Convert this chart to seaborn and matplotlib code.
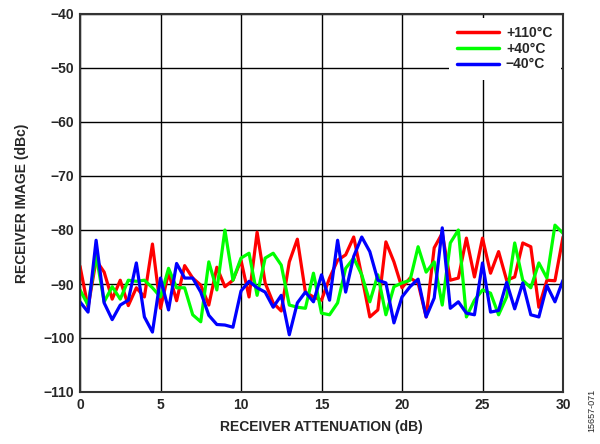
import numpy as np
import pandas as pd
import matplotlib
matplotlib.use("Agg")
import matplotlib.pyplot as plt
import seaborn as sns

attenuation = [i * 0.5 for i in range(61)]

red_110 = [-86.7, -94.3, -85.6, -87.8, -92.8, -89.3, -94.0, -90.7, -92.4, -82.6,
           -94.5, -87.9, -93.1, -86.6, -88.9, -90.2, -93.9, -86.9, -90.5, -89.3,
           -85.6, -92.4, -80.4, -89.8, -93.5, -95.0, -85.9, -81.7, -91.5, -92.4,
           -93.0, -88.9, -85.6, -84.6, -81.3, -88.5, -96.1, -94.8, -82.2, -85.9,
           -90.7, -88.9, -89.8, -96.1, -83.3, -80.6, -89.3, -88.9, -81.5, -88.7,
           -81.5, -88.0, -84.0, -89.3, -88.7, -82.4, -83.1, -94.3, -89.3, -89.4,
           -81.3]

green_40 = [-91.1, -93.9, -84.6, -93.3, -90.5, -92.8, -89.3, -89.5, -89.3, -90.7,
            -92.4, -87.1, -90.7, -90.7, -95.7, -97.0, -85.9, -91.1, -80.0, -89.3,
            -85.2, -84.3, -92.1, -85.2, -84.3, -86.5, -93.9, -94.3, -94.5, -88.0,
            -95.4, -95.7, -93.5, -87.1, -85.2, -88.3, -93.3, -88.3, -95.7, -90.5,
            -89.8, -89.3, -83.1, -87.8, -85.9, -93.9, -82.4, -80.0, -96.1, -93.0,
            -91.1, -91.7, -95.7, -92.4, -82.4, -89.3, -90.7, -86.1, -88.9, -79.1,
            -80.6]

blue_m40 = [-93.3, -95.2, -81.9, -93.5, -96.6, -93.9, -93.0, -86.1, -96.1, -98.9,
            -88.9, -94.8, -86.2, -88.9, -88.9, -91.5, -95.8, -97.5, -97.6, -98.0,
            -91.3, -89.5, -90.7, -91.5, -94.3, -92.1, -99.4, -93.5, -91.5, -93.3,
            -88.3, -93.0, -81.9, -91.5, -84.9, -81.3, -84.0, -89.3, -89.8, -97.2,
            -92.4, -90.5, -89.1, -96.1, -92.6, -79.6, -94.5, -93.3, -95.4, -95.7,
            -86.1, -95.2, -94.9, -89.7, -94.6, -89.8, -95.7, -96.1, -90.3, -93.3,
            -89.3]

series_labels = ["+110°C", "+40°C", "\u221240°C"]
x_ticks = [0, 5, 10, 15, 20, 25, 30]
y_ticks = [-110, -100, -90, -80, -70, -60, -50, -40]

df = pd.concat([
    pd.DataFrame({"att": attenuation, "image": red_110, "temp": series_labels[0]}),
    pd.DataFrame({"att": attenuation, "image": green_40, "temp": series_labels[1]}),
    pd.DataFrame({"att": attenuation, "image": blue_m40, "temp": series_labels[2]}),
])

sns.set_style("white")
plt.rcParams["font.family"] = ["Liberation Sans", "DejaVu Sans"]
plt.rcParams["axes.unicode_minus"] = True

fig = plt.figure(figsize=(6.0, 4.44), dpi=100)
ax = fig.add_axes([80 / 600, 1 - 392 / 444, (563 - 80) / 600, (392 - 14) / 444])

palette = {series_labels[0]: "#ff0000", series_labels[1]: "#00ff00", series_labels[2]: "#0000ff"}
sns.lineplot(data=df, x="att", y="image", hue="temp", hue_order=series_labels,
             palette=palette, linewidth=2.3, ax=ax, legend=True, sort=False)

ax.set_xlim(0, 30)
ax.set_ylim(-110, -40)
ax.set_xticks(x_ticks)
ax.set_yticks(y_ticks)
ax.set_xticklabels([str(t) for t in x_ticks], fontweight="bold", fontsize=10)
ax.set_yticklabels([f"\u2212{abs(t)}" for t in y_ticks], fontweight="bold", fontsize=10)
ax.tick_params(axis="both", length=0, pad=4)
ax.grid(True, color="black", linewidth=1.0)
ax.set_axisbelow(True)
for s in ax.spines.values():
    s.set_color("#333333")
    s.set_linewidth(1.5)

ax.set_xlabel("RECEIVER ATTENUATION (dB)", fontweight="bold", fontsize=10, labelpad=6)
ax.set_ylabel("RECEIVER IMAGE (dBc)", fontweight="bold", fontsize=10, labelpad=10)

leg = ax.legend(loc="upper right", bbox_to_anchor=(0.995, 0.99), frameon=True,
                fancybox=False, framealpha=1, edgecolor="white",
                prop={"weight": "bold", "size": 10},
                handlelength=3.0, borderaxespad=0.0, labelspacing=0.12,
                handletextpad=0.5, borderpad=0.6)
leg.get_frame().set_linewidth(0)
for line in leg.get_lines():
    line.set_linewidth(2.5)

fig.text(592 / 600, 1 - 410 / 444, "15657-071", rotation=90, fontsize=6.5,
         ha="center", va="center")

fig.savefig("out.png", dpi=100)
